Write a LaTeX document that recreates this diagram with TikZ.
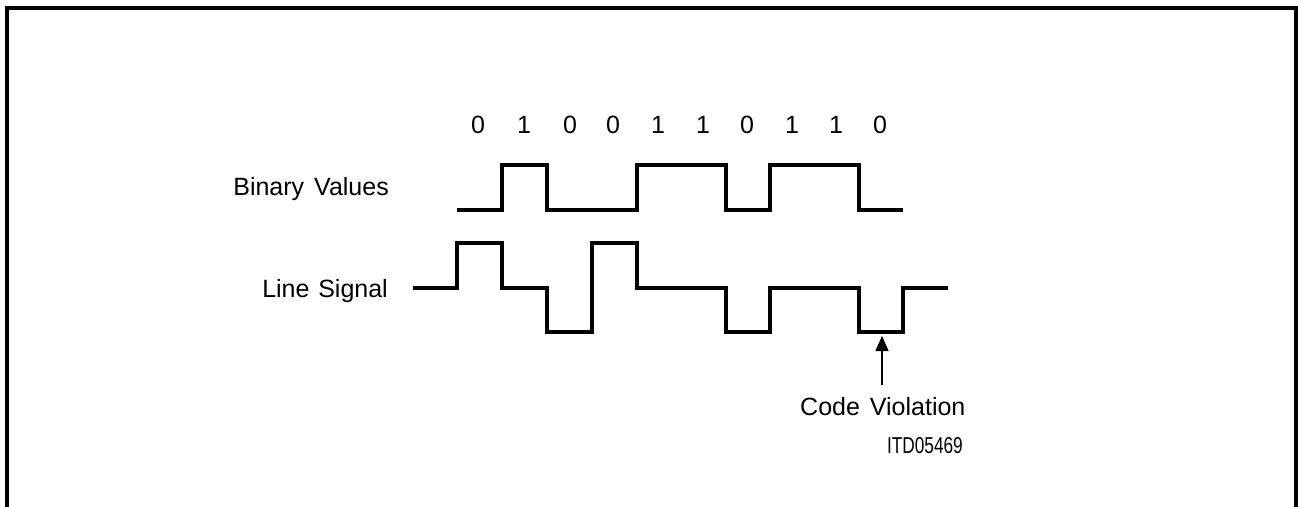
\documentclass[tikz,border=0pt]{standalone}
\usepackage{fontspec}
\setmainfont{Liberation Sans}
\usetikzlibrary{arrows.meta}
\tikzset{
  frame/.style={line width=3.4pt},
  wave/.style={line width=3.6pt, line join=miter},
  lbl/.style={inner sep=0pt, font=\fontsize{25}{28}\selectfont},
  bit/.style={inner sep=0pt, anchor=base, font=\fontsize{25}{28}\selectfont},
  tag/.style={inner sep=0pt, font=\fontsize{23}{26}\selectfont},
  pointer/.style={line width=1.2pt, -{Triangle[length=15pt,width=13pt]}}
}
\begin{document}
\begin{tikzpicture}[x=1pt,y=-1pt]
\useasboundingbox (0,0) rectangle (1298,506);
\draw[frame] (7,510) -- (7,8) -- (1296,8) -- (1296,510);
% bit labels
\foreach \x/\b [count=\i] in {478/0,524/1,570/0,613/0,658/1,703/1,747/0,792/1,836/1,880/0}
  \node[bit] (b\i) at (\x,133) {\b};
% row labels
\node[lbl, anchor=base east] (binlbl) at (389,195) {Binary\hspace{0.4em}Values};
\node[lbl, anchor=base east] (linelbl) at (388,297) {Line\hspace{0.35em}Signal};
% binary waveform
\draw[wave] (457,210) -- (502,210) -- (502,165) -- (547,165) -- (547,210)
  -- (637,210) -- (637,165) -- (726,165) -- (726,210) -- (770,210)
  -- (770,165) -- (859,165) -- (859,210) -- (903,210);
% line signal waveform
\draw[wave] (413,288) -- (457,288) -- (457,243) -- (502,243) -- (502,288)
  -- (547,288) -- (547,332) -- (592,332) -- (592,243) -- (637,243)
  -- (637,288) -- (726,288) -- (726,332) -- (770,332) -- (770,288)
  -- (859,288) -- (859,332) -- (903,332) -- (903,288) -- (948,288);
% code violation
\coordinate (cvtip) at (882,336);
\coordinate (cvfoot) at (882,385);
\node[lbl, anchor=base west] (cv) at (800,415) {Code\hspace{0.4em}Violation};
\draw[pointer] (cvfoot) -- (cvtip);
\node[tag, anchor=base east] (itd) at (963,453) {\scalebox{0.75}[1]{ITD05469}};
\end{tikzpicture}
\end{document}
